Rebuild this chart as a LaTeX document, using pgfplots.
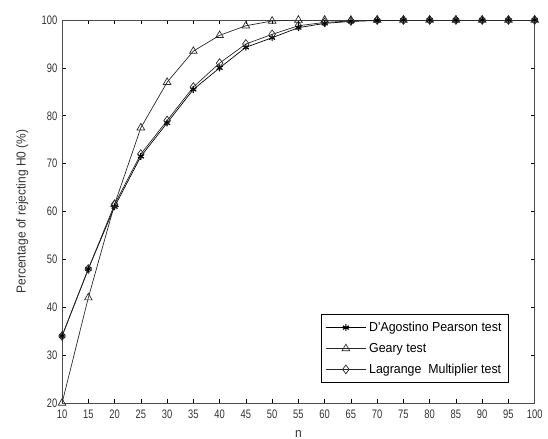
\documentclass[border=0pt]{standalone}
\usepackage{fontspec}
\setmainfont{Liberation Sans}
\newfontfamily\tickfont{Liberation Sans}[FakeStretch=0.76]
\newfontfamily\labfont{Liberation Sans}[FakeStretch=0.92]
\newfontfamily\legfont{Liberation Sans}[FakeStretch=0.95]
\usepackage{pgfplots}
\pgfplotsset{compat=1.18}
\begin{document}
\begin{tikzpicture}
\path[use as bounding box] (-45.3pt,-26.2pt) rectangle (354.7pt,294.2pt);
\begin{axis}[
  at={(0,0)}, anchor=south west,
  scale only axis, width=345pt, height=279.6pt,
  xmin=10, xmax=100, ymin=20, ymax=100,
  xtick={10,15,...,100}, ytick={20,30,...,100},
  tick align=inside, major tick length=3pt,
  every tick/.style={black, line width=0.4pt},
  axis line style={line width=0.5pt, black!70},
  tick label style={font=\tickfont\fontsize{9}{10}\selectfont, black!80},
  /pgf/number format/assume math mode=true,
  xlabel={n}, ylabel={Percentage of rejecting H0 (\%)},
  label style={font=\labfont\fontsize{9.5}{11}\selectfont, black!80},
  xlabel style={at={(axis description cs:0.5,0)}, anchor=base, yshift=-25.5pt},
  ylabel style={at={(axis description cs:-0.084,0.5)}, anchor=center},
  xticklabel style={yshift=-1.5pt},
  legend style={at={(1,0)}, anchor=south east, xshift=-19pt, yshift=14.6pt,
    font=\legfont\fontsize{9.5}{10.5}\selectfont, draw=black, line width=0.5pt,
    inner xsep=3pt, inner ysep=3.5pt, row sep=3pt, cells={anchor=west}},
  legend cell align=left,
  legend image code/.code={\draw[mark repeat=2,mark phase=2] plot coordinates {(0cm,0cm) (0.52cm,0cm) (1.04cm,0cm)};},
]
\addplot[black, line width=0.5pt, mark=asterisk, mark size=2.5pt, mark options={line width=0.9pt}] coordinates {
(10,34) (15,48) (20,61) (25,71.5) (30,78.5) (35,85.5) (40,90) (45,94.3) (50,96.3)
(55,98.4) (60,99.3) (65,99.7) (70,99.9) (75,100) (80,100) (85,100) (90,100) (95,100) (100,100)};
\addlegendentry{D'Agostino Pearson test}
\addplot[black!85, line width=0.5pt, mark=triangle, mark size=3.2pt, mark options={line width=0.5pt}] coordinates {
(10,20) (15,42) (20,61.5) (25,77.5) (30,87) (35,93.5) (40,96.8) (45,98.8) (50,99.8)
(55,100) (60,100) (65,100) (70,100) (75,100) (80,100) (85,100) (90,100) (95,100) (100,100)};
\addlegendentry{Geary test}
\addplot[black!85, line width=0.5pt, mark=diamond, mark size=3.2pt, mark options={line width=0.5pt}] coordinates {
(10,34) (15,48) (20,61.5) (25,72) (30,79) (35,86) (40,91) (45,95) (50,97)
(55,98.8) (60,99.5) (65,99.8) (70,100) (75,100) (80,100) (85,100) (90,100) (95,100) (100,100)};
\addlegendentry{Lagrange\ \ Multiplier test}
\end{axis}
\end{tikzpicture}
\end{document}
